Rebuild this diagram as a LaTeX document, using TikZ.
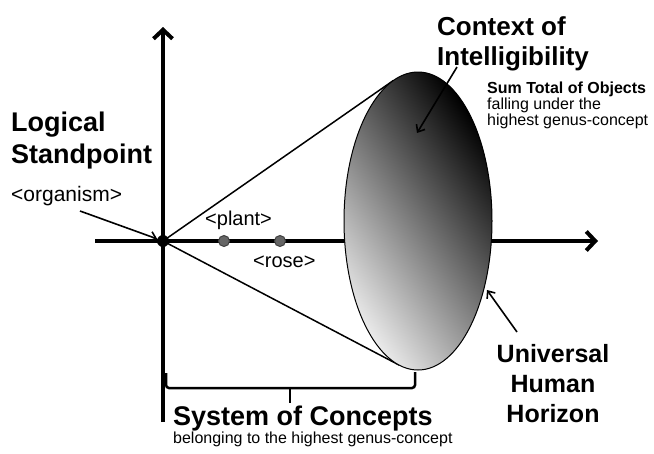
\documentclass[tikz,border=0pt]{standalone}
\usepackage{fontspec}
\setmainfont{Liberation Sans}
\usetikzlibrary{arrows.meta,calc,shapes.geometric}

\tikzset{
    axis/.style={line width=4pt, -{Straight Barb[length=9pt,width=19pt,line width=4pt]}},
    cone/.style={line width=1.5pt},
    pointer/.style={line width=1.6pt, -{Straight Barb[length=6pt,width=10pt]}},
    bigtext/.style={font=\fontsize{27}{30}\selectfont\bfseries, inner sep=0, anchor=base west},
    midtext/.style={font=\fontsize{20}{24}\selectfont, inner sep=0, anchor=base west},
    smalltext/.style={font=\fontsize{16}{16}\selectfont, inner sep=0, anchor=base west},
    concept/.style={circle, fill=black!60, draw=black!75, line width=1pt, minimum size=11pt, inner sep=0},
}

\begin{document}
\begin{tikzpicture}[x=1pt, y=-1pt]
    \useasboundingbox (0,0) rectangle (654,453);

    % Achsen
    \coordinate (xstart) at (95,241);
    \coordinate (xend) at (598,241);
    \coordinate (ybottom) at (163,422);
    \coordinate (ytop) at (163,27);
    \draw[axis] (xstart) -- (xend);
    \draw[axis] (ybottom) -- (ytop);

    % Horizont (Ellipse) und Kegel
    \coordinate (origin) at (163,241);
    \coordinate (ctr) at (418,221);
    \coordinate (ttop) at ($(ctr)+(250.5:74 and 149)$);
    \coordinate (tbot) at ($(ctr)+(104.7:74 and 149)$);
    \draw[cone] (origin) -- (ttop);
    \draw[cone] (origin) -- (tbot);
    \node[ellipse, draw=black, line width=1pt, minimum width=148pt, minimum height=298pt,
          shading=axis, top color=black, bottom color=black!8, shading angle=-55] (horizon) at (ctr) {};

    % Punkte auf der Achse
    \node[circle, fill=black, minimum size=12pt, inner sep=0] (org) at (origin) {};
    \node[concept] (plant) at (224,241) {};
    \node[concept] (rose) at (280,241) {};
    \node[midtext] (plantlbl) at (205,225) {<plant>};
    \node[midtext] (roselbl) at (253,267) {<rose>};

    % Logischer Standpunkt
    \node[bigtext] (logical) at (11,131) {Logical};
    \node[bigtext] (standpoint) at (11,163) {Standpoint};
    \node[midtext, font=\fontsize{21}{24}\selectfont] (organism) at (11,201) {<organism>};
    \coordinate (orgfrom) at (80,211);
    \draw[pointer] (orgfrom) -- (org);

    % Kontext der Intelligibilitaet
    \node[bigtext, font=\fontsize{26}{30}\selectfont\bfseries] (context) at (437,35) {Context of};
    \node[bigtext, font=\fontsize{26}{30}\selectfont\bfseries] (intell) at (437,65) {Intelligibility};
    \coordinate (ctxfrom) at (457,67);
    \coordinate (ctxto) at (417,133);
    \draw[pointer] (ctxfrom) -- (ctxto);
    \node[smalltext, font=\fontsize{16}{16}\selectfont\bfseries] (sumtotal) at (487,93) {Sum Total of Objects};
    \node[smalltext] (falling) at (487,109) {falling under the};
    \node[smalltext] (highest) at (487,125) {highest genus-concept};

    % Universaler Horizont
    \node[bigtext, font=\fontsize{25}{30}\selectfont\bfseries, anchor=base] (universal) at (553,362) {Universal};
    \node[bigtext, font=\fontsize{25}{30}\selectfont\bfseries, anchor=base] (human) at (553,392) {Human};
    \node[bigtext, font=\fontsize{25}{30}\selectfont\bfseries, anchor=base] (horizonlbl) at (553,422) {Horizon};
    \coordinate (uhfrom) at (517,332);
    \coordinate (uhto) at (487,290);
    \draw[pointer] (uhfrom) -- (uhto);

    % Klammer: System der Begriffe
    \coordinate (bl) at (166,373);
    \coordinate (br) at (415,372);
    \coordinate (bm) at (290,388);
    \draw[line width=2.5pt, rounded corners=3pt] (bl) -- (166,388) -- (415,388) -- (br);
    \draw[line width=2.5pt] (bm) -- (290,403);
    \node[bigtext] (system) at (173,425) {System of Concepts};
    \node[smalltext] (belonging) at (173,443) {belonging to the highest genus-concept};
\end{tikzpicture}
\end{document}
